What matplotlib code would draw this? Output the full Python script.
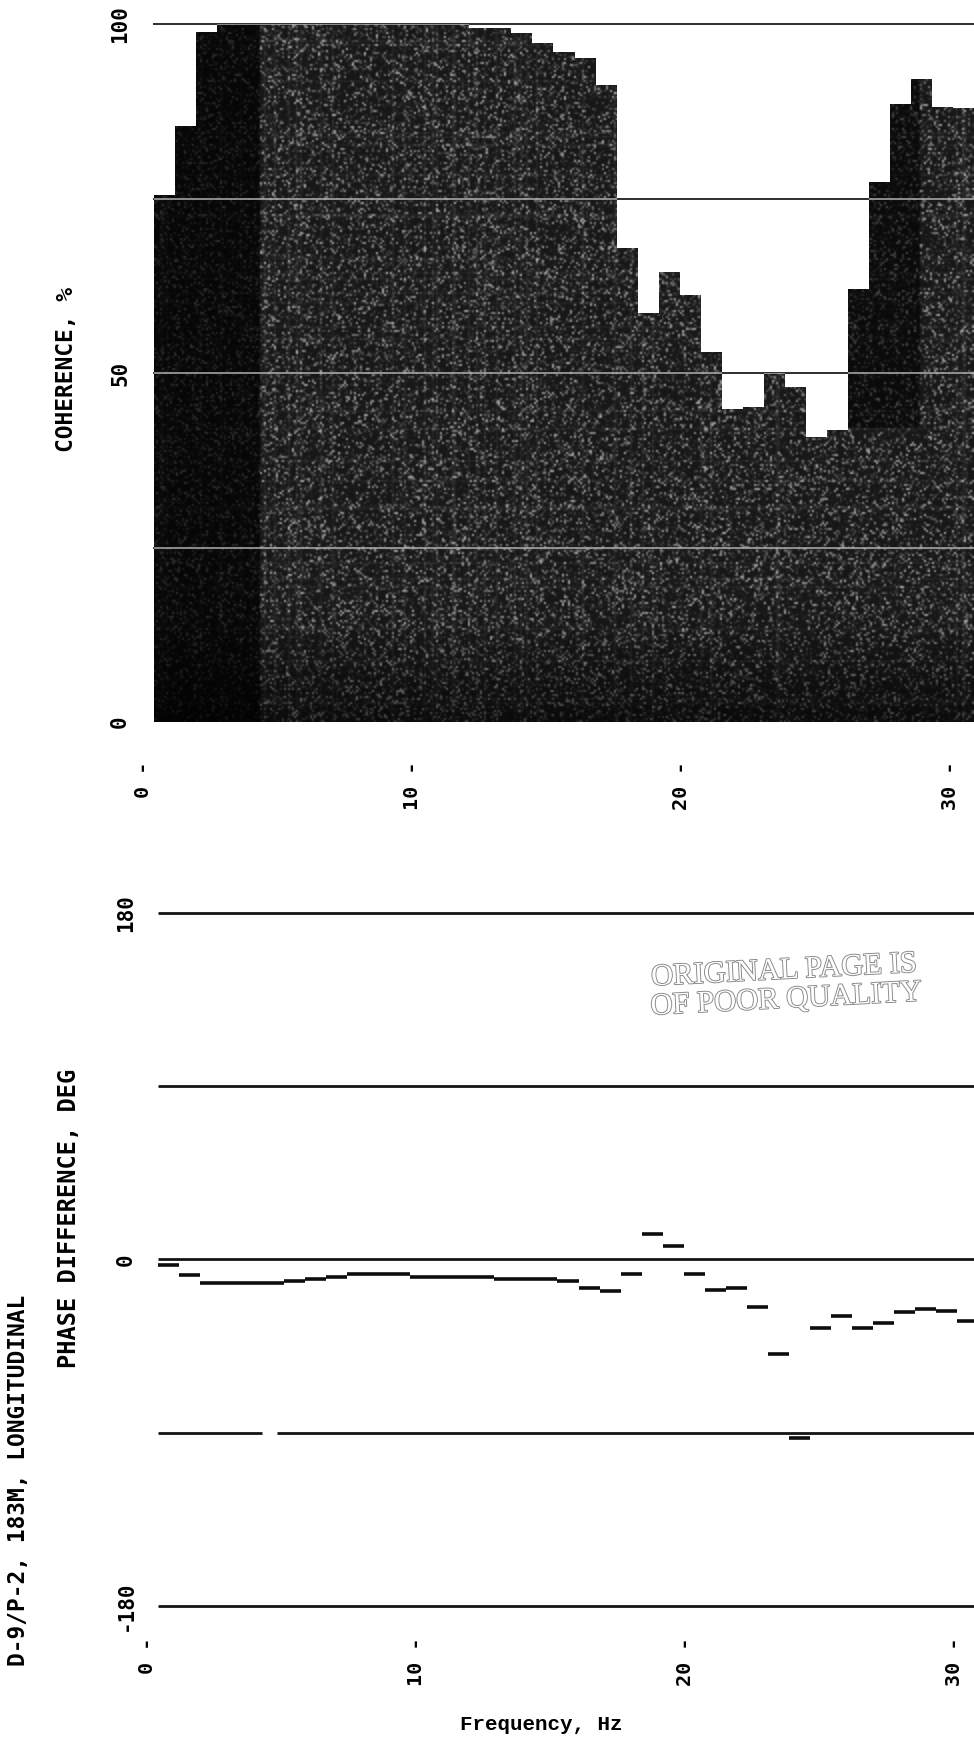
import numpy as np
import matplotlib.pyplot as plt
from matplotlib import patheffects

# spectral bins, 0.78125 Hz resolution
DF = 0.78125
bin_no = np.arange(1, 40)
freq = bin_no * DF

coherence = [75.5, 85.4, 98.9, 100, 100, 100, 100, 100, 100, 100,
             100, 100, 100, 100, 100, 99.4, 99.4, 98.7, 97.3, 96.0,
             95.2, 91.2, 67.9, 58.6, 64.5, 61.2, 53.0, 44.9, 45.1, 50.0,
             48.0, 40.9, 41.9, 62.0, 77.4, 88.5, 92.1, 88.1, 87.9]

phase = [-3.1, -8.3, -12.3, -12.3, -12.3, -12.3, -11.1, -10.2, -9.2, -7.6,
         -7.6, -7.6, -9.2, -9.2, -9.2, -9.2, -10.2, -10.0, -10.0, -11.1,
         -14.7, -16.4, -7.4, 13.3, 6.7, -7.4, -15.7, -15.0, -24.7, -49.0,
         -93.0, -35.6, -29.6, -35.6, -33.0, -27.6, -25.6, -26.7, -32.2]

coh_lines = [25, 50, 75, 100]
coh_ticks = [(100, '100'), (50, '50'), (0, '0')]
ph_lines = [-180, -90, 0, 90, 180]
ph_ticks = [(180, '180'), (0, '0'), (-180, '-180')]
freq_ticks = [0, 10, 20, 30]
gap_m90 = (4.25, 4.82)   # pen lift on the -90 line

edges = np.append(freq - DF / 2, freq[-1] + DF / 2)
x0, x1 = edges[0], edges[-1]

W, H = 974, 1752
fig = plt.figure(figsize=(W / 100, H / 100), dpi=100)
mono = ['DejaVu Sans Mono']


def axes_px(left, top, right, bottom):
    return fig.add_axes([left / W, 1 - bottom / H, (right - left) / W, (bottom - top) / H])


# ---- coherence ----
ax1 = axes_px(154, 24, 974, 722)
st = ax1.stairs(coherence, edges, fill=True, color='#1a1a1a', lw=0, zorder=2)

# grainy plotter fill inside the bars
rng = np.random.default_rng(3)
rows, cols = 349, 410
grain = 0.09 + 0.6 * rng.random((rows, cols)) ** 7
grain[:, rng.choice(cols, 40, replace=False)] += 0.05
grain[rng.choice(rows, 30, replace=False), :] += 0.04
fx = np.linspace(x0, x1, cols)
fy = np.linspace(0, 100, rows)
shade = np.ones((rows, cols))
shade[:, fx < 4.3] = 0.3
shade *= np.clip(0.45 + fy / 28, 0, 1)[:, None]
shade[np.ix_(fy > 42, (fx > 26.2) & (fx < 28.9))] *= 0.45
grain *= shade
im = ax1.imshow(grain, extent=(x0, x1, 0, 100), origin='lower', cmap='gray',
                vmin=0, vmax=1, aspect='auto', interpolation='bilinear', zorder=3)
im.set_clip_path(st)

for y in coh_lines:
    ax1.axhline(y, color='#2e2e2e', lw=1.4, zorder=1, clip_on=False)
    ln = ax1.axhline(y, color='#b0b0b0', lw=1.1, zorder=4)
    ln.set_clip_path(st)

ax1.set_xlim(x0, x1)
ax1.set_ylim(0, 100)
ax1.set_axis_off()

# ---- phase ----
ax2 = axes_px(158, 912.6, 978, 1606)
for y in ph_lines:
    if y == -90:
        ax2.hlines([y, y], [x0, gap_m90[1]], [gap_m90[0], x1], color='#141414',
                   lw=2.0, zorder=1, clip_on=False)
    else:
        ax2.hlines(y, x0, x1, color='#141414', lw=2.0, zorder=1, clip_on=False)
ax2.hlines(phase, edges[:-1], edges[1:], color='#0d0d0d', lw=2.6, capstyle='butt', zorder=3)
ax2.set_xlim(x0, x1)
ax2.set_ylim(-180, 180)
ax2.set_axis_off()

# ---- tick labels (printed sideways, like the plotter) ----
lab = dict(rotation=90, family=mono, weight='bold', clip_on=False)
for v, s in coh_ticks:
    ax1.text((120 - 154) / 820, v, s, transform=ax1.get_yaxis_transform(),
             ha='center', va='center', fontsize=15, **lab)
for v, s in ph_ticks:
    ax2.text((126 - 158) / 820, v, s, transform=ax2.get_yaxis_transform(),
             ha='center', va='center', fontsize=15, **lab)
for ax, gap, h in ((ax1, 40, 698), (ax2, 32, 693.4)):
    for f in freq_ticks:
        ax.text(f, -gap / h, f'{f} -', transform=ax.get_xaxis_transform(),
                ha='center', va='top', fontsize=14.5, **lab)

fig.text(67 / W, 1 - 369 / H, 'COHERENCE, %', ha='center', va='center',
         fontsize=16.5, **lab)
fig.text(69 / W, 1 - 1218 / H, 'PHASE DIFFERENCE, DEG', ha='center',
         va='center', fontsize=17, **lab)
fig.text(19 / W, 1 - 1480 / H, 'D-9/P-2, 183M, LONGITUDINAL', ha='center',
         va='center', fontsize=16.5, **lab)
fig.text(623 / W, 1 - 1725 / H, 'Frequency, Hz', ha='right', va='center',
         fontsize=15, family=['Liberation Mono'], weight='bold')

# rubber stamp
stamp = dict(ha='center', va='center', rotation=3, fontsize=22, color='white',
             family=['Liberation Serif'],
             path_effects=[patheffects.withStroke(linewidth=1.3, foreground='#858585')])
fig.text(784 / W, 1 - 971 / H, 'ORIGINAL PAGE IS', **stamp)
fig.text(786 / W, 1 - 1000 / H, 'OF POOR QUALITY', **stamp)

fig.savefig('out.png', dpi=100, facecolor='white')
